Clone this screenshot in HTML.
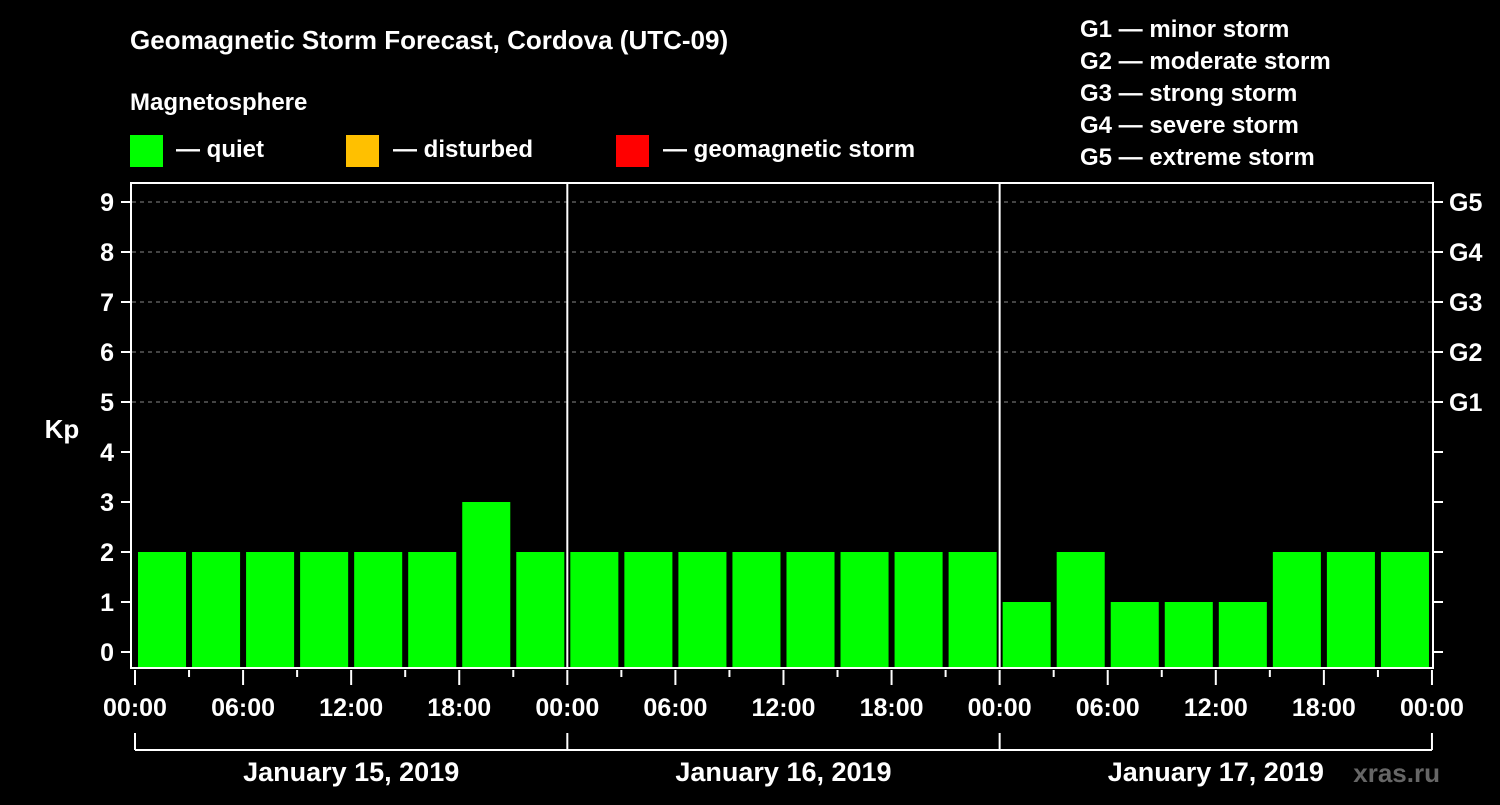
<!DOCTYPE html>
<html><head><meta charset="utf-8"><style>
body{margin:0;background:#000;}
svg text{font-family:"Liberation Sans",sans-serif;font-weight:bold;fill:#fff;}
</style></head><body>
<svg width="1500" height="800" viewBox="0 0 1500 800" id="chart">
<rect width="1500" height="800" fill="#000"/>
<text x="130" y="49" font-size="26">Geomagnetic Storm Forecast, Cordova (UTC-09)</text>
<text x="130" y="110" font-size="24">Magnetosphere</text>
<g><rect x="130" y="135" width="33" height="32" fill="#00ff00"/><text x="176" y="157" font-size="24">— quiet</text></g>
<g><rect x="346" y="135" width="33" height="32" fill="#ffc000"/><text x="393" y="157" font-size="24">— disturbed</text></g>
<g><rect x="616" y="135" width="33" height="32" fill="#ff0000"/><text x="663" y="157" font-size="24">— geomagnetic storm</text></g>
<g font-size="24">
<text x="1080" y="37">G1 — minor storm</text>
<text x="1080" y="69">G2 — moderate storm</text>
<text x="1080" y="101">G3 — strong storm</text>
<text x="1080" y="133">G4 — severe storm</text>
<text x="1080" y="165">G5 — extreme storm</text>
</g>
<g id="grid"></g><g id="bars"></g><g id="axes"></g>
<text x="62" y="438" font-size="26" text-anchor="middle">Kp</text>
<text x="1440" y="782" font-size="26" text-anchor="end" fill="#555" style="fill:#666">xras.ru</text>
</svg>
<script>
const kpValues=[2,2,2,2,2,2,3,2, 2,2,2,2,2,2,2,2, 1,2,1,1,1,2,2,2];
const dayLabels=["January 15, 2019","January 16, 2019","January 17, 2019"];
const hourLabels=["00:00","06:00","12:00","18:00"];
const gLabels=["G1","G2","G3","G4","G5"];
const NS="http://www.w3.org/2000/svg";
const x0=135,slot=54.04,yBase=652,unit=50,plotTop=183,plotBottom=668;
const xs=i=>x0+i*slot;
const ys=v=>yBase-v*unit;
function mk(tag,attrs,parent,txt){const e=document.createElementNS(NS,tag);for(const k in attrs)e.setAttribute(k,attrs[k]);if(txt!==undefined)e.textContent=txt;parent.appendChild(e);return e;}
const grid=document.getElementById('grid'),bars=document.getElementById('bars'),axes=document.getElementById('axes');
for(let k=5;k<=9;k++){const l=mk('line',{x1:132,x2:1432,y1:ys(k),y2:ys(k),stroke:'#888','stroke-dasharray':'4,4','stroke-width':1},grid);

}
kpValues.forEach((v,i)=>{const c=v>=5?'#ff0000':(v>=4?'#ffc000':'#00ff00');
const r=mk('rect',{x:xs(i)+3,y:ys(v),width:slot-6,height:plotBottom-ys(v),fill:c},bars);

});
const box=mk('rect',{x:131,y:plotTop,width:1302,height:plotBottom-plotTop,fill:'none',stroke:'#fff','stroke-width':2},axes);


[8,16].forEach(i=>{const l=mk('line',{x1:xs(i),x2:xs(i),y1:plotTop,y2:plotBottom,stroke:'#fff','stroke-width':2},axes);

});
for(let k=0;k<=9;k++){mk('line',{x1:121,x2:131,y1:ys(k),y2:ys(k),stroke:'#fff','stroke-width':2},axes);
mk('line',{x1:1433,x2:1443,y1:ys(k),y2:ys(k),stroke:'#fff','stroke-width':2},axes);
const t=mk('text',{x:114,y:ys(k)+9,'font-size':25,'text-anchor':'end'},axes,String(k));

}
gLabels.forEach((g,j)=>{const t=mk('text',{x:1449,y:ys(5+j)+9,'font-size':25},axes,g);

});
for(let i=0;i<=24;i++){const major=i%2===0;
mk('line',{x1:xs(i),x2:xs(i),y1:670,y2:major?685:677,stroke:'#fff','stroke-width':2},axes);
if(major){const t=mk('text',{x:xs(i),y:716,'font-size':25,'text-anchor':'middle'},axes,hourLabels[(i/2)%4]);

}}
mk('line',{x1:xs(0),x2:xs(24),y1:750,y2:750,stroke:'#fff','stroke-width':2},axes);
[0,8,16,24].forEach(i=>mk('line',{x1:xs(i),x2:xs(i),y1:733,y2:750,stroke:'#fff','stroke-width':2},axes));
dayLabels.forEach((d,j)=>{const t=mk('text',{x:xs(j*8+4),y:781,'font-size':27,'text-anchor':'middle'},axes,d);

});
</script>
</body></html>
